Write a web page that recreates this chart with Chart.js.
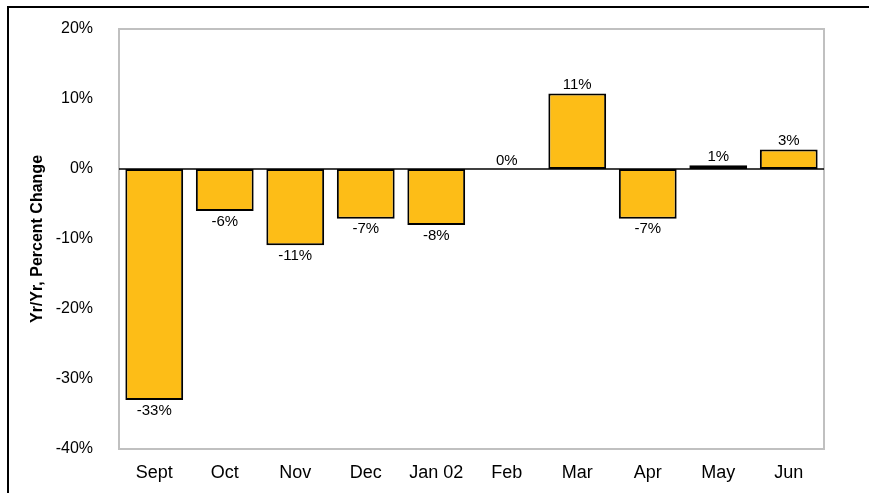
<!DOCTYPE html>
<html>
<head>
<meta charset="utf-8">
<script src="https://cdn.jsdelivr.net/npm/chart.js@4/dist/chart.umd.min.js"></script>
<style>
  html, body { margin: 0; padding: 0; background: #fff; }
  #wrap { position: relative; width: 869px; height: 493px; }
</style>
</head>
<body>
<div id="wrap"><canvas id="c" width="869" height="493"></canvas></div>
<script>
const categories = ['Sept', 'Oct', 'Nov', 'Dec', 'Jan 02', 'Feb', 'Mar', 'Apr', 'May', 'Jun'];
const changeValues = [-33, -6, -10.9, -7.1, -8, 0, 10.8, -7.1, 0.55, 2.8];
const yTickMin = -40;
const yTickMax = 20;
const yTickStep = 10;
const yAxisTitle = 'Yr/Yr, Percent Change';

const FONT = "'Liberation Sans', Arial, sans-serif";

const frame = {
  id: 'frame',
  beforeDraw(chart) {
    const ctx = chart.ctx;
    ctx.save();
    ctx.fillStyle = '#fff';
    ctx.fillRect(0, 0, chart.width, chart.height);
    ctx.strokeStyle = '#000';
    ctx.lineWidth = 2;
    ctx.beginPath();
    ctx.moveTo(8, chart.height);
    ctx.lineTo(8, 7);
    ctx.lineTo(chart.width, 7);
    ctx.stroke();
    ctx.restore();
  },
  beforeDatasetsDraw(chart) {
    const a = chart.chartArea, ctx = chart.ctx;
    ctx.save();
    ctx.strokeStyle = '#C0C0C0';
    ctx.lineWidth = 2;
    ctx.strokeRect(a.left, a.top, a.right - a.left, a.bottom - a.top);
    const y0 = chart.scales.y.getPixelForValue(0);
    ctx.strokeStyle = '#000';
    ctx.lineWidth = 1.5;
    ctx.beginPath();
    ctx.moveTo(a.left, y0);
    ctx.lineTo(a.right, y0);
    ctx.stroke();
    ctx.restore();
  }
};

const barLabels = {
  id: 'barLabels',
  afterDatasetsDraw(chart) {
    const ctx = chart.ctx;
    const meta = chart.getDatasetMeta(0);
    ctx.save();
    ctx.font = '15px ' + FONT;
    ctx.fillStyle = '#000';
    ctx.textAlign = 'center';
    meta.data.forEach((bar, i) => {
      const v = changeValues[i];
      const txt = Math.round(v) + '%';
      if (v >= 0) {
        ctx.textBaseline = 'bottom';
        ctx.fillText(txt, bar.x, bar.y - 1);
      } else {
        ctx.textBaseline = 'top';
        ctx.fillText(txt, bar.x, bar.y + 3);
      }
    });
    ctx.restore();
  }
};

new Chart(document.getElementById('c'), {
  type: 'bar',
  data: {
    labels: categories,
    datasets: [{
      data: changeValues,
      backgroundColor: '#FDBD17',
      borderColor: '#000',
      borderWidth: 2,
      borderSkipped: false,
      barPercentage: 0.82,
      categoryPercentage: 1.0
    }]
  },
  options: {
    responsive: false,
    animation: false,
    devicePixelRatio: 1,
    layout: { padding: { left: 10, top: 29, right: 45, bottom: 0 } },
    plugins: { legend: { display: false }, tooltip: { enabled: false } },
    scales: {
      x: {
        grid: { display: false, drawTicks: false },
        border: { display: false },
        ticks: { color: '#000', font: { family: FONT, size: 18 }, padding: 13, maxRotation: 0 },
        afterFit(s) { s.height = 44; }
      },
      y: {
        min: yTickMin,
        max: yTickMax,
        grid: { display: false, drawTicks: false },
        border: { display: false },
        ticks: {
          stepSize: yTickStep,
          color: '#000',
          font: { family: FONT, size: 16 },
          padding: 26,
          callback: v => v + '%'
        },
        title: {
          display: true,
          text: yAxisTitle,
          color: '#000',
          font: { family: FONT, size: 16, weight: 'bold' },
          padding: { top: 18, bottom: 0 }
        },
        afterFit(s) { s.width = 109; s.paddingTop = 0; s.paddingBottom = 0; }
      }
    }
  },
  plugins: [frame, barLabels]
});
</script>
</body>
</html>
